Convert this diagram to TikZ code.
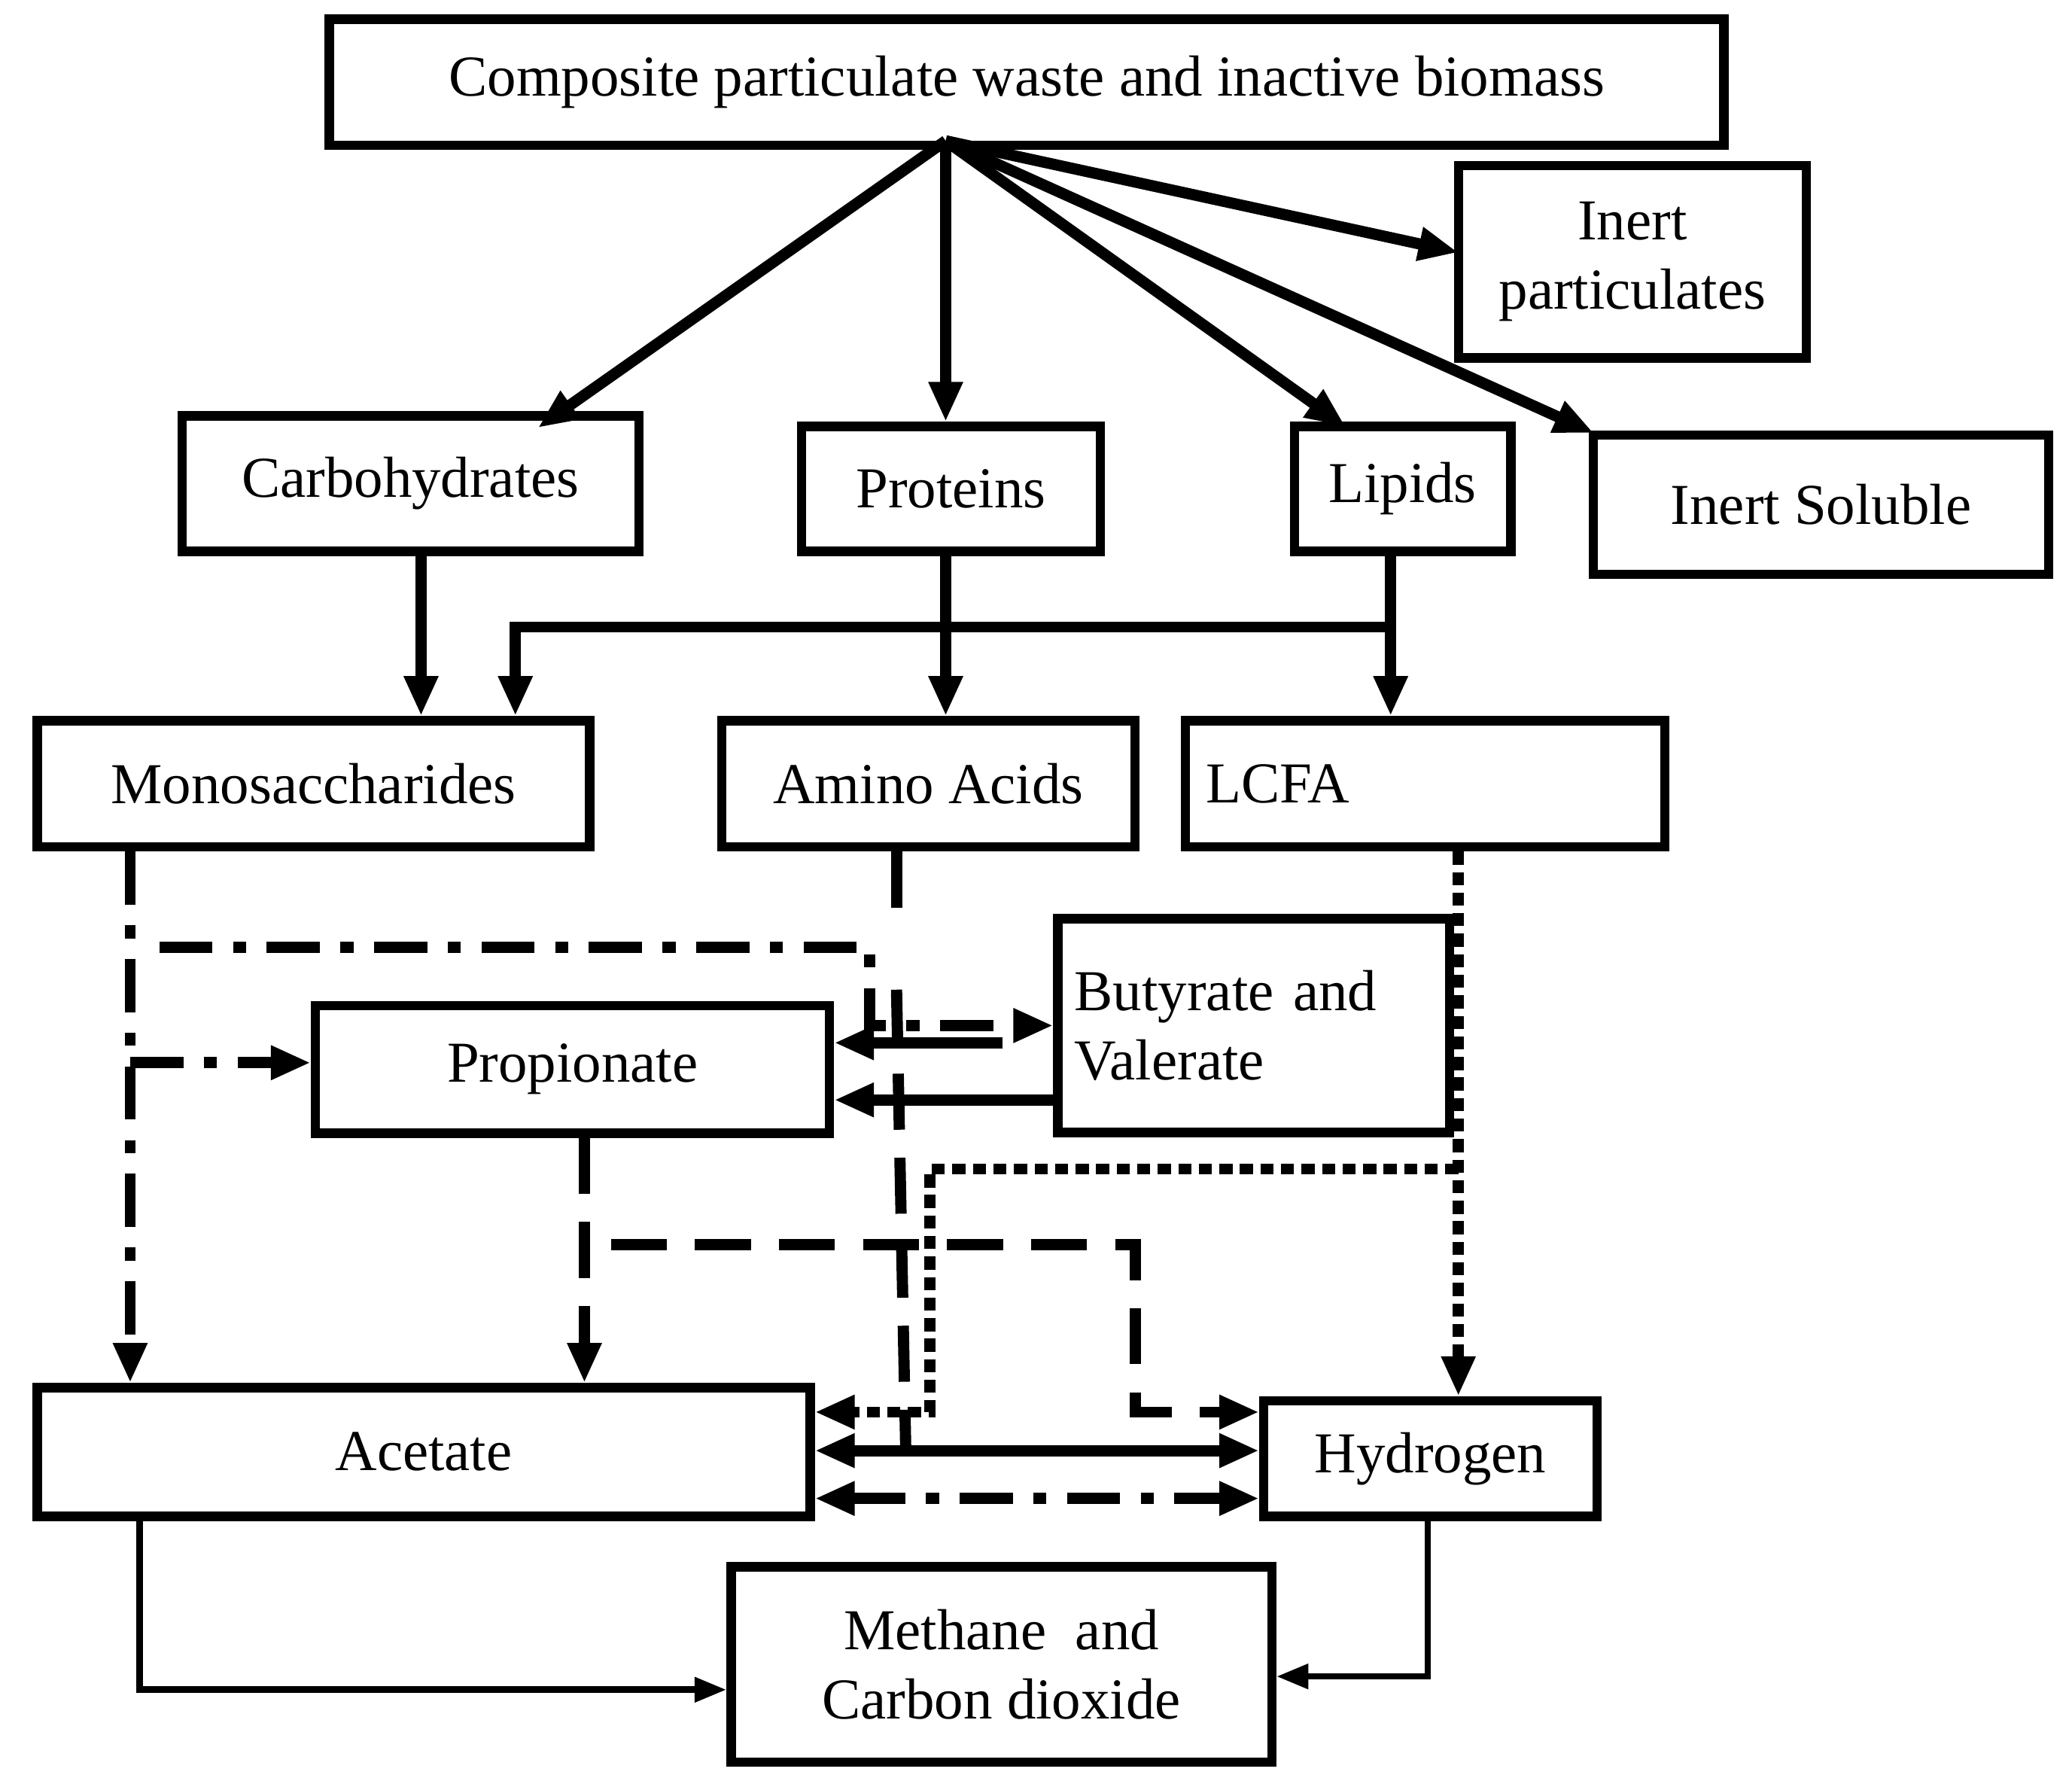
\documentclass[tikz,border=0pt]{standalone}
\usepackage{fontspec}
\setmainfont{Liberation Serif}
\usetikzlibrary{arrows.meta}
\begin{document}
\begin{tikzpicture}[x=0.05cm,y=-0.05cm,
  box/.style={draw,line width=10pt,inner sep=0pt,font=\fontsize{62}{74}\selectfont},
  ar/.style={line width=12pt,-{Triangle[length=1.5cm,width=1.2cm]}},
  th/.style={line width=7pt,-{Triangle[length=1.2cm,width=0.9cm]}},
  dd/.style={dash pattern=on 57pt off 22pt on 14pt off 22pt},
  ds/.style={dash pattern=on 60pt off 30pt},
  dt/.style={dash pattern=on 14pt off 8pt},
  dbl/.style={line width=12pt,{Triangle[length=1.5cm,width=1.2cm]}-{Triangle[length=1.5cm,width=1.2cm]}}]
\useasboundingbox (0,0) rectangle (1560,1347);
\fill[white] (0,0) rectangle (1560,1347);
\newcommand\bx[6]{\node[box,minimum width=#4*0.05cm,minimum height=#5*0.05cm,align=center] (#1) at (#2,#3) {#6};}
\bx{comp}{773}{62}{1050}{95}{Composite particulate waste and inactive biomass}
\bx{inp}{1229}{197}{262}{145}{Inert\\particulates}
\bx{carb}{309}{364}{344}{102}{Carbohydrates}
\bx{prot}{716}{368}{225}{94}{Proteins}
\bx{lip}{1056}{368}{163}{94}{Lipids}
\bx{ins}{1371}{380}{343}{105}{Inert Soluble}
\bx{mono}{236}{590}{416}{95}{Monosaccharides}
\bx{amino}{699}{590}{311}{95}{Amino Acids}
\node[box,minimum width=361*0.05cm,minimum height=95*0.05cm,text width=330*0.05cm,align=left] (lcfa) at (1073,590) {LCFA};
\node[box,minimum width=295*0.05cm,minimum height=161*0.05cm,text width=270*0.05cm,align=left] (buty) at (944,772) {Butyrate and\\Valerate};
\bx{prop}{431}{805}{387}{96}{Propionate}
\bx{acet}{319}{1093}{582}{97}{Acetate}
\bx{hyd}{1077}{1098}{251}{87}{Hydrogen}
\bx{meth}{754}{1253}{407}{147}{Methane~ and\\Carbon dioxide}
\coordinate (o) at (712,106);
\draw[ar] (o) -- (405,322);
\draw[ar] (o) -- (prot.north -| 712,0);
\draw[ar] (o) -- (1013,321);
\draw[ar] (o) -- (1098,190);
\draw[ar] (o) -- (1200,326);
\draw[ar] (carb.south -| 317,0) -- (mono.north -| 317,0);
\draw[ar] (prot.south -| 712,0) -- (amino.north -| 712,0);
\draw[ar] (lip.south -| 1047,0) -- (lcfa.north -| 1047,0);
\draw[ar] (1047,472) -- (388,472) -- (mono.north -| 388,0);
% monosaccharides dash-dot
\draw[ar,dd] (mono.south -| 98,0) -- (acet.north -| 98,0);
\draw[ar,dd] (98,800) -- (prop.west |- 0,800);
\draw[ar,dd] (120,713) -- (655,713) -- (655,772) -- (buty.west |- 0,772);
% amino acids
\draw[line width=12pt,ds] (amino.south -| 675,0) -- (675,700);
\draw[line width=12pt,ds] (675,745) -- (682,1095);
\draw[ar] (755,785) -- (prop.east |- 0,785);
\draw[ar] (buty.west |- 0,828) -- (prop.east |- 0,828);
% propionate dashed
\draw[ar,ds] (prop.south -| 440,0) -- (acet.north -| 440,0);
\draw[ar,ds] (460,937) -- (855,937) -- (855,1063) -- (hyd.west |- 0,1063);
% LCFA dotted
\draw[ar,dt] (lcfa.south -| 1098,0) -- (hyd.north -| 1098,0);
\draw[ar,dt] (1098,880) -- (700,880) -- (700,1063) -- (acet.east |- 0,1063);
% acetate-hydrogen
\draw[dbl] (acet.east |- 0,1092) -- (hyd.west |- 0,1092);
\draw[dbl,dd] (acet.east |- 0,1128) -- (hyd.west |- 0,1128);
% to methane
\draw[th] (acet.south -| 105,0) -- (105,1272) -- (meth.west |- 0,1272);
\draw[th] (hyd.south -| 1075,0) -- (1075,1262) -- (meth.east |- 0,1262);
\end{tikzpicture}
\end{document}
